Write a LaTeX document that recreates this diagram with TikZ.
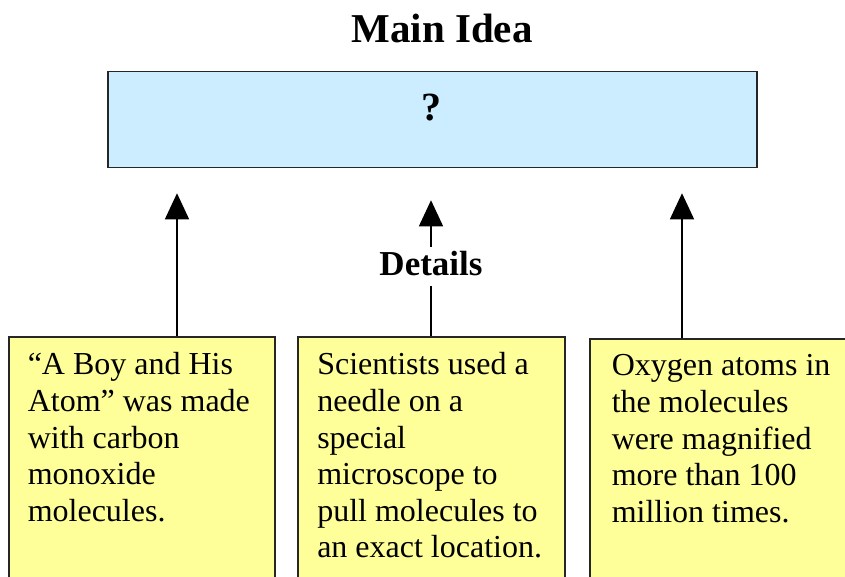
\documentclass[tikz,border=0pt]{standalone}
\usepackage{fontspec}
\setmainfont{Liberation Serif}
\usepackage{tikz}
\usetikzlibrary{arrows.meta, positioning, calc}

\definecolor{ideablue}{HTML}{CCECFF}
\definecolor{noteyellow}{HTML}{FFFF99}

% Text oben im gelben Kasten
\newcommand{\notetext}[1]{\parbox[c][252pt][t]{228pt}{\fontsize{32}{36.6}\selectfont #1}}

\begin{document}
\begin{tikzpicture}[x=1pt, y=-1pt,
    ideabox/.style={draw=black!85, line width=1.5pt, fill=ideablue, rectangle, minimum width=649pt, minimum height=96pt},
    notebox/.style={draw=black!85, line width=1.5pt, fill=noteyellow, rectangle, anchor=north west,
        inner xsep=0pt, inner ysep=16pt},
    uparrow/.style={line width=1.3pt, -{Triangle[length=26pt, width=24pt]}}]
    \useasboundingbox (0,0) rectangle (845,576);
    \clip (0,0) rectangle (845,576);

    % Hauptgedanke
    \node[anchor=base, font=\fontsize{41}{46}\selectfont\bfseries] (title) at (442,42) {Main Idea};
    \node[ideabox] (main) at (432.5,119.5) {};
    \node[anchor=base, font=\fontsize{40}{44}\selectfont\bfseries] (quest) at (431,120) {?};

    % Einzelheiten
    \node[notebox, minimum width=266pt] (box1) at (8,336) {\notetext{``A Boy and His\\Atom'' was made\\with carbon\\monoxide\\molecules.}};
    \node[notebox, minimum width=267pt] (box2) at (297,336) {\notetext{Scientists used a\\needle on a\\special\\microscope to\\pull molecules to\\an exact location.}};
    \node[notebox, minimum width=272pt] (box3) at (589,338) {\notetext{Oxygen atoms in\\the molecules\\were magnified\\more than 100\\million times.}};

    \node[anchor=base, font=\fontsize{35}{40}\selectfont\bfseries, inner xsep=2pt, inner ysep=4pt, text depth=7pt] (details) at (431,275) {Details};

    % Pfeile
    \coordinate (a1) at ($(box1.north west)+(169,0)$);
    \coordinate (a3) at ($(box3.north west)+(93,0)$);
    \draw[uparrow, shorten >=25pt] (a1) -- (a1 |- main.south);
    \draw[line width=1.3pt] (box2.north -| details) -- (details.south);
    \draw[uparrow, shorten >=32pt] (details.north) -- (details |- main.south);
    \draw[uparrow, shorten >=25pt] (a3) -- (a3 |- main.south);
\end{tikzpicture}
\end{document}
